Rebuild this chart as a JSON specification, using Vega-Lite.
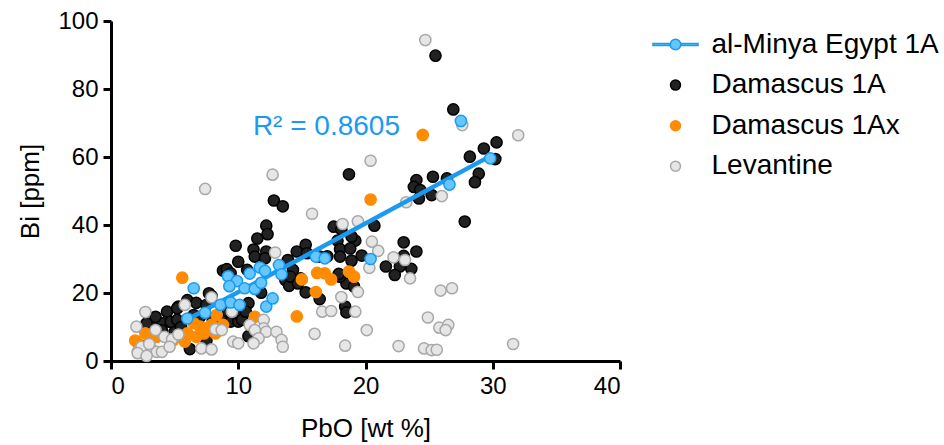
{
  "$schema": "https://vega.github.io/schema/vega-lite/v6.json",
  "width": 509,
  "height": 340,
  "autosize": {"type": "none"},
  "padding": {"left": 111, "top": 21, "right": 324, "bottom": 84},
  "background": "white",
  "config": {
    "view": {"stroke": null},
    "font": "Liberation Sans",
    "axis": {
      "grid": false,
      "domainColor": "black",
      "domainWidth": 3,
      "tickColor": "black",
      "tickWidth": 3,
      "tickSize": 8,
      "labelFont": "Liberation Sans",
      "labelFontSize": 24,
      "labelColor": "black",
      "labelPadding": 5,
      "titleFont": "Liberation Sans",
      "titleFontSize": 26,
      "titleFontWeight": "normal",
      "titleColor": "black"
    },
    "legend": {
      "orient": "none", "legendX": 541, "legendY": 9.5, "padding": 0,
      "labelFontSize": 28, "labelFont": "Liberation Sans", "labelColor": "black", "labelLimit": 400,
      "symbolSize": 100, "symbolStrokeWidth": 1.5, "symbolOffset": 9.5, "labelOffset": 22, "rowPadding": 12.6
    }
  },
  "data": {
    "values": [
      {"g": "Damascus 1A", "pbo": 25.5, "bi": 89.8},
      {"g": "Damascus 1A", "pbo": 26.9, "bi": 74.0},
      {"g": "Damascus 1A", "pbo": 30.3, "bi": 64.3},
      {"g": "Damascus 1A", "pbo": 29.3, "bi": 62.5},
      {"g": "Damascus 1A", "pbo": 30.2, "bi": 59.4},
      {"g": "Damascus 1A", "pbo": 28.2, "bi": 60.1},
      {"g": "Damascus 1A", "pbo": 28.9, "bi": 55.1},
      {"g": "Damascus 1A", "pbo": 28.6, "bi": 52.6},
      {"g": "Damascus 1A", "pbo": 25.3, "bi": 54.2},
      {"g": "Damascus 1A", "pbo": 24.0, "bi": 53.2},
      {"g": "Damascus 1A", "pbo": 23.8, "bi": 51.2},
      {"g": "Damascus 1A", "pbo": 26.4, "bi": 53.7},
      {"g": "Damascus 1A", "pbo": 24.3, "bi": 50.3},
      {"g": "Damascus 1A", "pbo": 24.2, "bi": 47.8},
      {"g": "Damascus 1A", "pbo": 25.2, "bi": 48.8},
      {"g": "Damascus 1A", "pbo": 27.8, "bi": 41.0},
      {"g": "Damascus 1A", "pbo": 18.7, "bi": 54.9},
      {"g": "Damascus 1A", "pbo": 12.8, "bi": 47.2},
      {"g": "Damascus 1A", "pbo": 13.5, "bi": 45.5},
      {"g": "Damascus 1A", "pbo": 12.2, "bi": 39.8},
      {"g": "Damascus 1A", "pbo": 12.3, "bi": 37.3},
      {"g": "Damascus 1A", "pbo": 17.5, "bi": 39.5},
      {"g": "Damascus 1A", "pbo": 18.1, "bi": 38.7},
      {"g": "Damascus 1A", "pbo": 20.7, "bi": 39.8},
      {"g": "Damascus 1A", "pbo": 23.0, "bi": 34.9},
      {"g": "Damascus 1A", "pbo": 24.0, "bi": 32.2},
      {"g": "Damascus 1A", "pbo": 19.7, "bi": 31.0},
      {"g": "Damascus 1A", "pbo": 21.6, "bi": 27.8},
      {"g": "Damascus 1A", "pbo": 22.7, "bi": 27.8},
      {"g": "Damascus 1A", "pbo": 23.6, "bi": 27.1},
      {"g": "Damascus 1A", "pbo": 22.3, "bi": 25.3},
      {"g": "Damascus 1A", "pbo": 23.0, "bi": 30.9},
      {"g": "Damascus 1A", "pbo": 9.8, "bi": 33.9},
      {"g": "Damascus 1A", "pbo": 11.5, "bi": 36.0},
      {"g": "Damascus 1A", "pbo": 11.2, "bi": 32.8},
      {"g": "Damascus 1A", "pbo": 12.2, "bi": 32.2},
      {"g": "Damascus 1A", "pbo": 14.6, "bi": 32.2},
      {"g": "Damascus 1A", "pbo": 15.3, "bi": 34.2},
      {"g": "Damascus 1A", "pbo": 15.4, "bi": 31.7},
      {"g": "Damascus 1A", "pbo": 17.8, "bi": 35.4},
      {"g": "Damascus 1A", "pbo": 19.2, "bi": 35.4},
      {"g": "Damascus 1A", "pbo": 18.0, "bi": 32.9},
      {"g": "Damascus 1A", "pbo": 18.8, "bi": 33.1},
      {"g": "Damascus 1A", "pbo": 18.9, "bi": 36.6},
      {"g": "Damascus 1A", "pbo": 17.0, "bi": 30.8},
      {"g": "Damascus 1A", "pbo": 16.4, "bi": 30.7},
      {"g": "Damascus 1A", "pbo": 18.9, "bi": 29.5},
      {"g": "Damascus 1A", "pbo": 18.0, "bi": 30.7},
      {"g": "Damascus 1A", "pbo": 10.0, "bi": 29.2},
      {"g": "Damascus 1A", "pbo": 8.8, "bi": 26.6},
      {"g": "Damascus 1A", "pbo": 9.1, "bi": 27.0},
      {"g": "Damascus 1A", "pbo": 9.4, "bi": 25.8},
      {"g": "Damascus 1A", "pbo": 10.7, "bi": 26.8},
      {"g": "Damascus 1A", "pbo": 11.3, "bi": 30.7},
      {"g": "Damascus 1A", "pbo": 12.1, "bi": 30.2},
      {"g": "Damascus 1A", "pbo": 13.9, "bi": 29.7},
      {"g": "Damascus 1A", "pbo": 11.8, "bi": 20.1},
      {"g": "Damascus 1A", "pbo": 13.7, "bi": 23.8},
      {"g": "Damascus 1A", "pbo": 14.0, "bi": 22.1},
      {"g": "Damascus 1A", "pbo": 14.3, "bi": 26.8},
      {"g": "Damascus 1A", "pbo": 14.9, "bi": 24.3},
      {"g": "Damascus 1A", "pbo": 14.1, "bi": 24.8},
      {"g": "Damascus 1A", "pbo": 14.7, "bi": 22.8},
      {"g": "Damascus 1A", "pbo": 15.3, "bi": 20.2},
      {"g": "Damascus 1A", "pbo": 16.4, "bi": 18.2},
      {"g": "Damascus 1A", "pbo": 18.5, "bi": 22.8},
      {"g": "Damascus 1A", "pbo": 18.0, "bi": 24.8},
      {"g": "Damascus 1A", "pbo": 17.9, "bi": 25.6},
      {"g": "Damascus 1A", "pbo": 19.1, "bi": 21.9},
      {"g": "Damascus 1A", "pbo": 18.4, "bi": 16.0},
      {"g": "Damascus 1A", "pbo": 18.5, "bi": 14.3},
      {"g": "Damascus 1A", "pbo": 6.0, "bi": 17.9},
      {"g": "Damascus 1A", "pbo": 6.7, "bi": 17.1},
      {"g": "Damascus 1A", "pbo": 5.3, "bi": 16.0},
      {"g": "Damascus 1A", "pbo": 7.5, "bi": 16.5},
      {"g": "Damascus 1A", "pbo": 4.4, "bi": 14.5},
      {"g": "Damascus 1A", "pbo": 5.2, "bi": 15.5},
      {"g": "Damascus 1A", "pbo": 7.9, "bi": 19.1},
      {"g": "Damascus 1A", "pbo": 7.7, "bi": 19.9},
      {"g": "Damascus 1A", "pbo": 3.5, "bi": 11.1},
      {"g": "Damascus 1A", "pbo": 4.1, "bi": 11.1},
      {"g": "Damascus 1A", "pbo": 2.8, "bi": 11.1},
      {"g": "Damascus 1A", "pbo": 4.7, "bi": 11.5},
      {"g": "Damascus 1A", "pbo": 5.2, "bi": 12.1},
      {"g": "Damascus 1A", "pbo": 6.2, "bi": 3.5},
      {"g": "Damascus 1A", "pbo": 10.8, "bi": 7.3},
      {"g": "Damascus 1A", "pbo": 9.0, "bi": 12.5},
      {"g": "Damascus 1A", "pbo": 9.4, "bi": 11.6},
      {"g": "Damascus 1A", "pbo": 10.0, "bi": 11.6},
      {"g": "Damascus 1A", "pbo": 10.1, "bi": 13.5},
      {"g": "Damascus 1A", "pbo": 10.8, "bi": 17.0},
      {"g": "Damascus 1A", "pbo": 9.2, "bi": 14.5},
      {"g": "Damascus 1A", "pbo": 10.3, "bi": 12.1},
      {"g": "Damascus 1A", "pbo": 10.6, "bi": 14.5},
      {"g": "Damascus 1A", "pbo": 2.3, "bi": 4.5},
      {"g": "Damascus 1A", "pbo": 3.0, "bi": 8.0},
      {"g": "Damascus 1A", "pbo": 4.0, "bi": 9.0},
      {"g": "Damascus 1A", "pbo": 5.0, "bi": 8.5},
      {"g": "Damascus 1A", "pbo": 5.5, "bi": 10.0},
      {"g": "Damascus 1A", "pbo": 6.5, "bi": 13.5},
      {"g": "Damascus 1A", "pbo": 7.0, "bi": 13.0},
      {"g": "Damascus 1A", "pbo": 8.0, "bi": 12.0},
      {"g": "Damascus 1A", "pbo": 2.5, "bi": 2.5},
      {"g": "Damascus 1A", "pbo": 7.5, "bi": 6.0},
      {"g": "Damascus 1A", "pbo": 3.5, "bi": 13.0},
      {"g": "Damascus 1Ax", "pbo": 24.5, "bi": 66.5},
      {"g": "Damascus 1Ax", "pbo": 20.4, "bi": 47.5},
      {"g": "Damascus 1Ax", "pbo": 5.6, "bi": 24.5},
      {"g": "Damascus 1Ax", "pbo": 15.0, "bi": 24.0},
      {"g": "Damascus 1Ax", "pbo": 16.2, "bi": 25.9},
      {"g": "Damascus 1Ax", "pbo": 16.8, "bi": 25.8},
      {"g": "Damascus 1Ax", "pbo": 17.3, "bi": 24.0},
      {"g": "Damascus 1Ax", "pbo": 18.7, "bi": 26.3},
      {"g": "Damascus 1Ax", "pbo": 19.1, "bi": 24.8},
      {"g": "Damascus 1Ax", "pbo": 16.1, "bi": 20.3},
      {"g": "Damascus 1Ax", "pbo": 14.6, "bi": 13.1},
      {"g": "Damascus 1Ax", "pbo": 11.3, "bi": 13.0},
      {"g": "Damascus 1Ax", "pbo": 1.9, "bi": 6.0},
      {"g": "Damascus 1Ax", "pbo": 2.7, "bi": 8.1},
      {"g": "Damascus 1Ax", "pbo": 3.1, "bi": 6.2},
      {"g": "Damascus 1Ax", "pbo": 3.6, "bi": 7.1},
      {"g": "Damascus 1Ax", "pbo": 4.9, "bi": 6.2},
      {"g": "Damascus 1Ax", "pbo": 5.3, "bi": 7.6},
      {"g": "Damascus 1Ax", "pbo": 6.0, "bi": 8.1},
      {"g": "Damascus 1Ax", "pbo": 5.8, "bi": 5.7},
      {"g": "Damascus 1Ax", "pbo": 6.7, "bi": 7.1},
      {"g": "Damascus 1Ax", "pbo": 7.0, "bi": 10.1},
      {"g": "Damascus 1Ax", "pbo": 6.5, "bi": 11.1},
      {"g": "Damascus 1Ax", "pbo": 7.3, "bi": 8.1},
      {"g": "Damascus 1Ax", "pbo": 7.5, "bi": 9.6},
      {"g": "Damascus 1Ax", "pbo": 7.9, "bi": 10.6},
      {"g": "Damascus 1Ax", "pbo": 8.3, "bi": 13.5},
      {"g": "Damascus 1Ax", "pbo": 8.2, "bi": 8.1},
      {"g": "Damascus 1Ax", "pbo": 8.8, "bi": 10.6},
      {"g": "Damascus 1Ax", "pbo": 2.2, "bi": 4.7},
      {"g": "Levantine", "pbo": 24.7, "bi": 94.4},
      {"g": "Levantine", "pbo": 27.6, "bi": 69.4},
      {"g": "Levantine", "pbo": 32.0, "bi": 66.4},
      {"g": "Levantine", "pbo": 20.4, "bi": 58.9},
      {"g": "Levantine", "pbo": 12.7, "bi": 54.8},
      {"g": "Levantine", "pbo": 7.4, "bi": 50.6},
      {"g": "Levantine", "pbo": 15.8, "bi": 43.3},
      {"g": "Levantine", "pbo": 18.2, "bi": 40.3},
      {"g": "Levantine", "pbo": 19.4, "bi": 41.1},
      {"g": "Levantine", "pbo": 26.0, "bi": 48.5},
      {"g": "Levantine", "pbo": 23.2, "bi": 46.7},
      {"g": "Levantine", "pbo": 20.5, "bi": 35.1},
      {"g": "Levantine", "pbo": 21.0, "bi": 32.4},
      {"g": "Levantine", "pbo": 20.3, "bi": 27.4},
      {"g": "Levantine", "pbo": 22.2, "bi": 30.5},
      {"g": "Levantine", "pbo": 23.1, "bi": 29.7},
      {"g": "Levantine", "pbo": 23.5, "bi": 24.3},
      {"g": "Levantine", "pbo": 19.4, "bi": 20.3},
      {"g": "Levantine", "pbo": 19.2, "bi": 14.5},
      {"g": "Levantine", "pbo": 20.1, "bi": 9.1},
      {"g": "Levantine", "pbo": 22.6, "bi": 4.4},
      {"g": "Levantine", "pbo": 25.9, "bi": 20.7},
      {"g": "Levantine", "pbo": 26.8, "bi": 21.4},
      {"g": "Levantine", "pbo": 24.9, "bi": 12.8},
      {"g": "Levantine", "pbo": 25.8, "bi": 9.8},
      {"g": "Levantine", "pbo": 26.5, "bi": 10.6},
      {"g": "Levantine", "pbo": 26.3, "bi": 9.1},
      {"g": "Levantine", "pbo": 24.6, "bi": 3.7},
      {"g": "Levantine", "pbo": 25.2, "bi": 3.2},
      {"g": "Levantine", "pbo": 25.6, "bi": 3.3},
      {"g": "Levantine", "pbo": 31.6, "bi": 5.0},
      {"g": "Levantine", "pbo": 12.9, "bi": 31.9},
      {"g": "Levantine", "pbo": 18.1, "bi": 18.8},
      {"g": "Levantine", "pbo": 16.6, "bi": 14.5},
      {"g": "Levantine", "pbo": 17.3, "bi": 14.7},
      {"g": "Levantine", "pbo": 16.0, "bi": 8.0},
      {"g": "Levantine", "pbo": 18.4, "bi": 4.5},
      {"g": "Levantine", "pbo": 10.9, "bi": 10.6},
      {"g": "Levantine", "pbo": 12.0, "bi": 12.1},
      {"g": "Levantine", "pbo": 12.0, "bi": 9.6},
      {"g": "Levantine", "pbo": 12.2, "bi": 8.6},
      {"g": "Levantine", "pbo": 13.0, "bi": 8.6},
      {"g": "Levantine", "pbo": 13.4, "bi": 6.2},
      {"g": "Levantine", "pbo": 13.5, "bi": 4.2},
      {"g": "Levantine", "pbo": 11.3, "bi": 9.1},
      {"g": "Levantine", "pbo": 11.6, "bi": 6.7},
      {"g": "Levantine", "pbo": 11.2, "bi": 5.2},
      {"g": "Levantine", "pbo": 9.6, "bi": 5.7},
      {"g": "Levantine", "pbo": 10.0, "bi": 5.2},
      {"g": "Levantine", "pbo": 7.9, "bi": 18.7},
      {"g": "Levantine", "pbo": 5.8, "bi": 16.5},
      {"g": "Levantine", "pbo": 2.7, "bi": 14.4},
      {"g": "Levantine", "pbo": 2.0, "bi": 10.1},
      {"g": "Levantine", "pbo": 3.5, "bi": 9.1},
      {"g": "Levantine", "pbo": 2.1, "bi": 2.7},
      {"g": "Levantine", "pbo": 2.7, "bi": 1.8},
      {"g": "Levantine", "pbo": 3.2, "bi": 3.4},
      {"g": "Levantine", "pbo": 3.6, "bi": 2.7},
      {"g": "Levantine", "pbo": 4.0, "bi": 2.7},
      {"g": "Levantine", "pbo": 4.2, "bi": 7.1},
      {"g": "Levantine", "pbo": 4.8, "bi": 6.4},
      {"g": "Levantine", "pbo": 5.3, "bi": 7.8},
      {"g": "Levantine", "pbo": 7.1, "bi": 3.7},
      {"g": "Levantine", "pbo": 7.9, "bi": 3.4},
      {"g": "Levantine", "pbo": 8.2, "bi": 9.3},
      {"g": "Levantine", "pbo": 8.7, "bi": 9.1},
      {"g": "Levantine", "pbo": 2.4, "bi": 4.2},
      {"g": "Levantine", "pbo": 2.1, "bi": 2.3},
      {"g": "Levantine", "pbo": 2.8, "bi": 1.5},
      {"g": "Levantine", "pbo": 4.6, "bi": 4.2},
      {"g": "Levantine", "pbo": 3.0, "bi": 5.0},
      {"g": "Levantine", "pbo": 9.5, "bi": 14.5},
      {"g": "al-Minya Egypt 1A", "pbo": 6.0, "bi": 12.5},
      {"g": "al-Minya Egypt 1A", "pbo": 6.5, "bi": 21.4},
      {"g": "al-Minya Egypt 1A", "pbo": 7.4, "bi": 14.2},
      {"g": "al-Minya Egypt 1A", "pbo": 8.6, "bi": 16.5},
      {"g": "al-Minya Egypt 1A", "pbo": 9.4, "bi": 17.2},
      {"g": "al-Minya Egypt 1A", "pbo": 10.1, "bi": 16.5},
      {"g": "al-Minya Egypt 1A", "pbo": 9.2, "bi": 24.9},
      {"g": "al-Minya Egypt 1A", "pbo": 9.9, "bi": 23.5},
      {"g": "al-Minya Egypt 1A", "pbo": 9.3, "bi": 22.0},
      {"g": "al-Minya Egypt 1A", "pbo": 10.5, "bi": 21.4},
      {"g": "al-Minya Egypt 1A", "pbo": 10.9, "bi": 25.7},
      {"g": "al-Minya Egypt 1A", "pbo": 11.3, "bi": 21.2},
      {"g": "al-Minya Egypt 1A", "pbo": 11.7, "bi": 27.5},
      {"g": "al-Minya Egypt 1A", "pbo": 11.8, "bi": 23.0},
      {"g": "al-Minya Egypt 1A", "pbo": 12.1, "bi": 26.5},
      {"g": "al-Minya Egypt 1A", "pbo": 12.2, "bi": 16.0},
      {"g": "al-Minya Egypt 1A", "pbo": 12.7, "bi": 18.4},
      {"g": "al-Minya Egypt 1A", "pbo": 13.2, "bi": 28.2},
      {"g": "al-Minya Egypt 1A", "pbo": 13.4, "bi": 25.5},
      {"g": "al-Minya Egypt 1A", "pbo": 16.1, "bi": 30.7},
      {"g": "al-Minya Egypt 1A", "pbo": 16.8, "bi": 30.2},
      {"g": "al-Minya Egypt 1A", "pbo": 20.4, "bi": 30.0},
      {"g": "al-Minya Egypt 1A", "pbo": 26.6, "bi": 51.9},
      {"g": "al-Minya Egypt 1A", "pbo": 27.5, "bi": 70.6},
      {"g": "al-Minya Egypt 1A", "pbo": 29.8, "bi": 59.6}
    ]
  },
  "layer": [
    {
      "transform": [{"filter": "datum.g != 'al-Minya Egypt 1A'"}],
      "mark": {"type": "point", "filled": true, "size": 125, "strokeWidth": 1.5, "opacity": 1},
      "encoding": {
        "x": {"field": "pbo", "type": "quantitative", "scale": {"domain": [0, 40], "nice": false}, "axis": {"title": "PbO [wt %]", "values": [0, 10, 20, 30, 40], "titlePadding": 17}},
        "y": {"field": "bi", "type": "quantitative", "scale": {"domain": [0, 100], "nice": false}, "axis": {"title": "Bi [ppm]", "values": [0, 20, 40, 60, 80, 100], "titlePadding": 14}},
        "fill": {"field": "g", "type": "nominal", "title": null, "scale": {"domain": ["al-Minya Egypt 1A", "Damascus 1A", "Damascus 1Ax", "Levantine"], "range": ["#66c7ff", "#222222", "#ff8c00", "#e6e6e6"]}},
        "stroke": {"field": "g", "type": "nominal", "title": null, "scale": {"domain": ["al-Minya Egypt 1A", "Damascus 1A", "Damascus 1Ax", "Levantine"], "range": ["#1a9af0", "#000000", "#ff8c00", "#a8a8a8"]}},
        "shape": {"field": "g", "type": "nominal", "title": null, "scale": {"domain": ["al-Minya Egypt 1A", "Damascus 1A", "Damascus 1Ax", "Levantine"], "range": ["M-4.5,-0.22L-1.05,-0.22L-1.05,0.22L-4.5,0.22ZM1.05,-0.22L4.5,-0.22L4.5,0.22L1.05,0.22ZM-1.05,0A1.05,1.05,0,1,1,1.05,0A1.05,1.05,0,1,1,-1.05,0Z", "circle", "circle", "circle"]}}
      }
    },
    {
      "transform": [{"filter": "datum.g == 'al-Minya Egypt 1A'"}, {"regression": "bi", "on": "pbo"}],
      "mark": {"type": "line", "color": "#1a9af0", "strokeWidth": 4.5},
      "encoding": {
        "x": {"field": "pbo", "type": "quantitative"},
        "y": {"field": "bi", "type": "quantitative"}
      }
    },
    {
      "transform": [{"filter": "datum.g == 'al-Minya Egypt 1A'"}],
      "mark": {"type": "point", "filled": true, "shape": "circle", "size": 125, "strokeWidth": 1.5, "opacity": 1},
      "encoding": {
        "x": {"field": "pbo", "type": "quantitative"},
        "y": {"field": "bi", "type": "quantitative"},
        "fill": {"field": "g", "type": "nominal", "title": null},
        "stroke": {"field": "g", "type": "nominal", "title": null}
      }
    },
    {
      "data": {"values": [{"label": "R² = 0.8605"}]},
      "mark": {"type": "text", "fontSize": 28, "color": "#1a9af0", "align": "left", "baseline": "alphabetic", "font": "Liberation Sans"},
      "encoding": {
        "x": {"datum": 11.15, "type": "quantitative"},
        "y": {"datum": 66.5, "type": "quantitative"},
        "text": {"field": "label", "type": "nominal"}
      }
    }
  ]
}
